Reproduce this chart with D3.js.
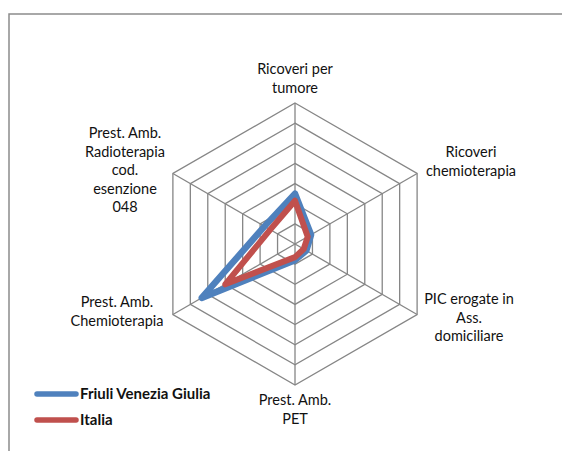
<!DOCTYPE html>
<html>
<head>
<meta charset="utf-8">
<script src="https://cdn.jsdelivr.net/npm/d3@7/dist/d3.min.js"></script>
<style>
  html, body { margin: 0; padding: 0; background: #fff; }
  svg { display: block; }
  text { font-family: Lato, "Open Sans", sans-serif; fill: #111; }
</style>
</head>
<body>
<svg id="chart" width="562" height="451"></svg>
<script>
// Axis labels, clockwise from the top (each entry is split into text lines)
const categories = [
  ["Ricoveri per", "tumore"],
  ["Ricoveri", "chemioterapia"],
  ["PIC erogate in", "Ass.", "domiciliare"],
  ["Prest. Amb.", "PET"],
  ["Prest. Amb.", "Chemioterapia"],
  ["Prest. Amb.", "Radioterapia", "cod.", "esenzione", "048"]
];
const seriesNames = ["Friuli Venezia Giulia", "Italia"];
const friuliValues = [25, 9.2, 6.5, 8, 53.5, 17.5];
const italiaValues = [21.5, 7.3, 5, 6.5, 40, 14.2];
const gridTicks = [10, 20, 30, 40, 50, 60, 70];
const colors = ["#4F81BD", "#C0504D"];

const svg = d3.select("#chart");
const cx = 295, cy = 244, R = 141;
const n = categories.length;

const r = d3.scaleLinear().domain([0, 70]).range([0, R]);
const angle = d3.scaleLinear().domain([0, n]).range([0, 2 * Math.PI]);
const pt = (i, v) => [Math.sin(angle(i)) * r(v) + cx, -Math.cos(angle(i)) * r(v) + cy];

// chart frame
svg.append("path")
  .attr("d", "M9,451 V14 H562")
  .attr("fill", "none").attr("stroke", "#8c8c8c").attr("stroke-width", 1.5);

// hexagonal grid rings
const ringLine = d3.line().curve(d3.curveLinearClosed);
svg.append("g").selectAll("path").data(gridTicks).join("path")
  .attr("d", t => ringLine(d3.range(n).map(i => pt(i, t))))
  .attr("fill", "none").attr("stroke", "#868686").attr("stroke-width", 1.3);

// spokes
svg.append("g").selectAll("line").data(d3.range(n)).join("line")
  .attr("x1", cx).attr("y1", cy)
  .attr("x2", i => pt(i, 70)[0]).attr("y2", i => pt(i, 70)[1])
  .attr("stroke", "#868686").attr("stroke-width", 1.3);

// series polygons
const series = [friuliValues, italiaValues];
const widths = [6.5, 6];
series.forEach((vals, s) => {
  svg.append("path")
    .attr("d", ringLine(vals.map((v, i) => pt(i, v))))
    .attr("fill", "none").attr("stroke", colors[s])
    .attr("stroke-width", widths[s]).attr("stroke-linejoin", "round");
});

// axis labels: [center x, first line y]
const labelPos = [
  [295, 74], [471, 157], [469, 304], [295, 405], [117, 307], [125, 138]
];
const lh = 18.5;
categories.forEach((lines, i) => {
  const t = svg.append("text").attr("text-anchor", "middle").attr("font-size", 14.5);
  lines.forEach((ln, k) => {
    t.append("tspan").attr("x", labelPos[i][0]).attr("y", labelPos[i][1] + k * lh).text(ln);
  });
});

// legend
const legend = svg.append("g");
seriesNames.forEach((name, s) => {
  const y = 394 + s * 26;
  legend.append("line").attr("x1", 37).attr("x2", 76).attr("y1", y).attr("y2", y)
    .attr("stroke", colors[s]).attr("stroke-width", 5.5).attr("stroke-linecap", "round");
  legend.append("text").attr("x", 80).attr("y", y + 5)
    .attr("font-size", 15).attr("font-weight", "bold").text(name);
});
</script>
</body>
</html>
